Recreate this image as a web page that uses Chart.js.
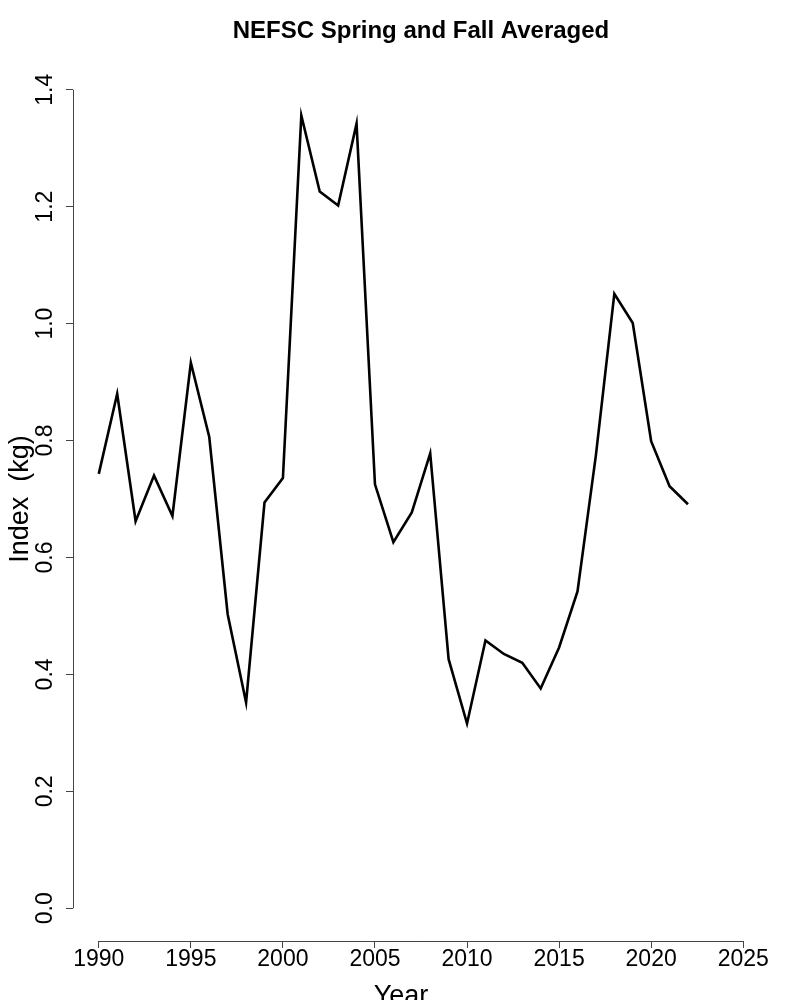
<!DOCTYPE html>
<html>
<head>
<meta charset="utf-8">
<title>NEFSC Spring and Fall Averaged</title>
<script src="https://cdn.jsdelivr.net/npm/chart.js@4/dist/chart.umd.min.js"></script>
<style>
  html, body { margin: 0; padding: 0; background: #fff; }
  #chart { display: block; }
</style>
</head>
<body>
<canvas id="chart" width="800" height="1000"></canvas>
<script>
const chartTitle = 'NEFSC Spring and Fall Averaged';
const xTitle = 'Year';
const yTitle = 'Index  (kg)';

const years = [1990, 1991, 1992, 1993, 1994, 1995, 1996, 1997, 1998, 1999,
    2000, 2001, 2002, 2003, 2004, 2005, 2006, 2007, 2008, 2009,
    2010, 2011, 2012, 2013, 2014, 2015, 2016, 2017, 2018, 2019,
    2020, 2021, 2022];
const indexKg = [0.743, 0.880, 0.662, 0.740, 0.671, 0.933, 0.806, 0.503, 0.352, 0.694,
    0.736, 1.356, 1.226, 1.202, 1.342, 0.725, 0.626, 0.677, 0.778, 0.426,
    0.316, 0.458, 0.435, 0.420, 0.376, 0.446, 0.542, 0.775, 1.051, 1.001,
    0.799, 0.722, 0.691];

const xTicks = [1990, 1995, 2000, 2005, 2010, 2015, 2020, 2025];
const yTicks = [0, 0.2, 0.4, 0.6, 0.8, 1.0, 1.2, 1.4];

const font = 'Liberation Sans, Arial, Helvetica, sans-serif';
const axisColor = '#444';

// R-style axes: the line only runs between the first and last tick
const rAxes = {
    id: 'rAxes',
    afterDraw(chart) {
        const { ctx, chartArea, scales } = chart;
        const x = scales.x, y = scales.y;
        ctx.save();
        ctx.strokeStyle = axisColor;
        ctx.lineWidth = 1;
        ctx.beginPath();
        const ax = Math.round(chartArea.left) + 0.5;
        ctx.moveTo(ax, y.getPixelForValue(yTicks[0]));
        ctx.lineTo(ax, y.getPixelForValue(yTicks[yTicks.length - 1]));
        const ay = Math.round(chartArea.bottom) + 0.5;
        ctx.moveTo(x.getPixelForValue(xTicks[0]), ay);
        ctx.lineTo(x.getPixelForValue(xTicks[xTicks.length - 1]), ay);
        ctx.stroke();

        // x axis title (sits a little left of the plot centre in the original)
        ctx.fillStyle = '#000';
        ctx.font = '27px ' + font;
        ctx.textAlign = 'center';
        ctx.textBaseline = 'middle';
        ctx.fillText(xTitle, (chartArea.left + chartArea.right) / 2 - 20, chartArea.bottom + 56);
        ctx.restore();
    }
};

new Chart(document.getElementById('chart'), {
    type: 'line',
    data: {
        datasets: [{
            data: years.map((yr, i) => ({ x: yr, y: indexKg[i] })),
            borderColor: '#000',
            borderWidth: 2.6,
            pointRadius: 0,
            tension: 0,
            fill: false
        }]
    },
    options: {
        responsive: false,
        animation: false,
        layout: { padding: { left: 0, right: 31, top: 0, bottom: 0 } },
        plugins: {
            legend: { display: false },
            tooltip: { enabled: false },
            title: {
                display: true,
                text: chartTitle,
                fullSize: false,
                color: '#000',
                font: { family: font, size: 24, weight: 'bold' },
                padding: { top: 16.6, bottom: 11.6 }
            }
        },
        scales: {
            x: {
                type: 'linear',
                min: 1988.6,
                max: 2026.4,
                afterBuildTicks: (s) => { s.ticks = xTicks.map(v => ({ value: v })); },
                afterFit: (s) => { s.height = 59; },
                border: { display: false },
                grid: { drawOnChartArea: false, drawTicks: true, tickLength: 7, color: axisColor },
                ticks: {
                    color: '#000',
                    font: { family: font, size: 23, lineHeight: 1 },
                    padding: 0,
                    maxRotation: 0,
                    autoSkip: false,
                    callback: (v) => String(v)
                }
            },
            y: {
                type: 'linear',
                min: -0.056,
                max: 1.456,
                afterBuildTicks: (s) => { s.ticks = yTicks.map(v => ({ value: v })); },
                afterFit: (s) => { s.width = 73; },
                border: { display: false },
                grid: { drawOnChartArea: false, drawTicks: true, tickLength: 7, color: axisColor },
                title: {
                    display: true,
                    text: yTitle,
                    color: '#000',
                    font: { family: font, size: 27 },
                    padding: { top: 4, bottom: 0 }
                },
                ticks: {
                    color: '#000',
                    font: { family: font, size: 23 },
                    minRotation: 90,
                    maxRotation: 90,
                    crossAlign: 'center',
                    padding: 4.5,
                    autoSkip: false,
                    callback: (v) => Number(v).toFixed(1)
                }
            }
        }
    },
    plugins: [rAxes]
});
</script>
</body>
</html>
